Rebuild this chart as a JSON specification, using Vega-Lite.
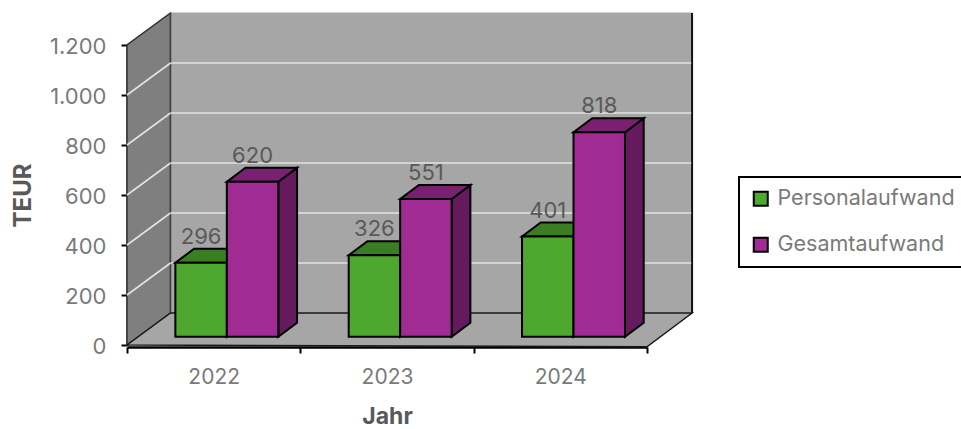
{
  "$schema": "https://vega.github.io/schema/vega-lite/v6.json",
  "width": 520,
  "height": 300,
  "autosize": {"type": "none"},
  "padding": {"left": 127, "top": 45, "right": 314, "bottom": 84},
  "background": "white",
  "config": {"view": {"stroke": null}, "font": "Inter", "legend": {"strokeWidth": 2}},
  "datasets": {
    "aufwand": [
      {"jahr": 2022, "serie": "Personalaufwand", "wert": 296},
      {"jahr": 2022, "serie": "Gesamtaufwand", "wert": 620},
      {"jahr": 2023, "serie": "Personalaufwand", "wert": 326},
      {"jahr": 2023, "serie": "Gesamtaufwand", "wert": 551},
      {"jahr": 2024, "serie": "Personalaufwand", "wert": 401},
      {"jahr": 2024, "serie": "Gesamtaufwand", "wert": 818}
    ],
    "raster": [
      {"wert": 0}, {"wert": 200}, {"wert": 400}, {"wert": 600},
      {"wert": 800}, {"wert": 1000}, {"wert": 1200}
    ],
    "raum": [{"teil": "Raum"}]
  },
  "layer": [
    {
      "resolve": {"scale": {"fill": "independent"}, "legend": {"fill": "independent"}},
      "layer": [
        {
          "description": "Seitenwand",
          "data": {"name": "raum"},
          "transform": [
            {"calculate": "[0, 0.251, 0.251, 0]", "as": "px"},
            {"calculate": "[0, 128, 1328, 1200]", "as": "py"},
            {"calculate": "[0, 1, 2, 3]", "as": "k"},
            {"flatten": ["px", "py", "k"]}
          ],
          "mark": {"type": "line", "interpolate": "linear-closed", "fill": "#7f7f7f", "stroke": "#333333", "strokeWidth": 1.5},
          "encoding": {
            "x": {"field": "px", "type": "quantitative", "scale": {"domain": [0, 3], "nice": false, "zero": false}, "axis": null},
            "y": {"field": "py", "type": "quantitative"},
            "order": {"field": "k"}
          }
        },
        {
          "description": "Rueckwand",
          "data": {"name": "raum"},
          "transform": [
            {"calculate": "[0.251, 3.26, 3.26, 0.251]", "as": "px"},
            {"calculate": "[128, 128, 1328, 1328]", "as": "py"},
            {"calculate": "[0, 1, 2, 3]", "as": "k"},
            {"flatten": ["px", "py", "k"]}
          ],
          "mark": {"type": "line", "interpolate": "linear-closed", "fill": "#a6a6a6", "stroke": "#a6a6a6", "strokeWidth": 1},
          "encoding": {
            "x": {"field": "px", "type": "quantitative", "axis": null},
            "y": {"field": "py", "type": "quantitative"},
            "order": {"field": "k"}
          }
        },
        {
          "description": "Linke Kante der Rueckwand",
          "data": {"name": "raum"},
          "mark": {"type": "rule", "stroke": "#404040", "strokeWidth": 1.5},
          "encoding": {
            "x": {"datum": 0.251, "type": "quantitative", "axis": null},
            "y": {"datum": 128, "type": "quantitative"},
            "y2": {"datum": 1328}
          }
        },
        {
          "description": "Rechte Kante der Rueckwand",
          "data": {"name": "raum"},
          "mark": {"type": "rule", "stroke": "#111111", "strokeWidth": 2},
          "encoding": {
            "x": {"datum": 3.26, "type": "quantitative", "axis": null},
            "y": {"datum": 128, "type": "quantitative"},
            "y2": {"datum": 1328}
          }
        },
        {
          "description": "Boden",
          "data": {"name": "raum"},
          "transform": [
            {"calculate": "[0, 3, 3.26, 0.251]", "as": "px"},
            {"calculate": "[0, -7, 128, 128]", "as": "py"},
            {"calculate": "[0, 1, 2, 3]", "as": "k"},
            {"flatten": ["px", "py", "k"]}
          ],
          "mark": {"type": "line", "interpolate": "linear-closed", "fill": "#a6a6a6", "stroke": "#1a1a1a", "strokeWidth": 1.5},
          "encoding": {
            "x": {"field": "px", "type": "quantitative", "axis": null},
            "y": {"field": "py", "type": "quantitative"},
            "order": {"field": "k"}
          }
        },
        {
          "description": "Gitterlinien der Rueckwand",
          "data": {"name": "raster"},
          "transform": [
            {"filter": "datum.wert > 0 && datum.wert < 1200"},
            {"calculate": "datum.wert + 128", "as": "hinten"}
          ],
          "mark": {"type": "rule", "stroke": "#e2e2e2", "strokeWidth": 1.6},
          "encoding": {
            "x": {"datum": 0.251, "type": "quantitative", "axis": null},
            "x2": {"datum": 3.255},
            "y": {"field": "hinten", "type": "quantitative"}
          }
        },
        {
          "description": "Gitterlinien der Seitenwand",
          "data": {"name": "raster"},
          "transform": [
            {"filter": "datum.wert > 0 && datum.wert < 1200"},
            {"calculate": "datum.wert + 128", "as": "hinten"}
          ],
          "mark": {"type": "rule", "stroke": "#e2e2e2", "strokeWidth": 1.6},
          "encoding": {
            "x": {"datum": 0, "type": "quantitative", "axis": null},
            "x2": {"datum": 0.251},
            "y": {"field": "wert", "type": "quantitative"},
            "y2": {"field": "hinten"}
          }
        },
        {
          "description": "Seitenflaechen der Saeulen",
          "data": {"name": "aufwand"},
          "transform": [
            {"calculate": "datum.jahr - 2022 + 0.279 + (datum.serie === 'Gesamtaufwand' ? 0.297 : 0)", "as": "x0"},
            {"calculate": "[datum.x0 + 0.297, datum.x0 + 0.405, datum.x0 + 0.405, datum.x0 + 0.297]", "as": "px"},
            {"calculate": "[33 + datum.wert, 89 + datum.wert, 89, 33]", "as": "py"},
            {"calculate": "[0, 1, 2, 3]", "as": "k"},
            {"flatten": ["px", "py", "k"]}
          ],
          "mark": {"type": "line", "interpolate": "linear-closed", "stroke": "#000000", "strokeWidth": 2},
          "encoding": {
            "x": {"field": "px", "type": "quantitative", "axis": null},
            "y": {"field": "py", "type": "quantitative"},
            "fill": {
              "field": "serie",
              "type": "nominal",
              "scale": {"domain": ["Personalaufwand", "Gesamtaufwand"], "range": ["#2f641c", "#641a5c"]},
              "legend": null
            },
            "detail": {"field": "jahr"},
            "order": {"field": "k"}
          }
        },
        {
          "description": "Deckflaechen der Saeulen",
          "data": {"name": "aufwand"},
          "transform": [
            {"calculate": "datum.jahr - 2022 + 0.279 + (datum.serie === 'Gesamtaufwand' ? 0.297 : 0)", "as": "x0"},
            {"calculate": "[datum.x0, datum.x0 + 0.297, datum.x0 + 0.405, datum.x0 + 0.108]", "as": "px"},
            {"calculate": "[33 + datum.wert, 33 + datum.wert, 89 + datum.wert, 89 + datum.wert]", "as": "py"},
            {"calculate": "[0, 1, 2, 3]", "as": "k"},
            {"flatten": ["px", "py", "k"]}
          ],
          "mark": {"type": "line", "interpolate": "linear-closed", "stroke": "#000000", "strokeWidth": 2},
          "encoding": {
            "x": {"field": "px", "type": "quantitative", "axis": null},
            "y": {"field": "py", "type": "quantitative"},
            "fill": {
              "field": "serie",
              "type": "nominal",
              "scale": {"domain": ["Personalaufwand", "Gesamtaufwand"], "range": ["#3b7d23", "#7a2070"]},
              "legend": null
            },
            "detail": {"field": "jahr"},
            "order": {"field": "k"}
          }
        },
        {
          "description": "Vorderseiten der Saeulen",
          "data": {"name": "aufwand"},
          "transform": [
            {"calculate": "datum.jahr - 2022 + 0.279 + (datum.serie === 'Gesamtaufwand' ? 0.297 : 0)", "as": "x0"},
            {"calculate": "datum.x0 + 0.297", "as": "x1"},
            {"calculate": "33 + datum.wert", "as": "oben"},
            {"calculate": "33", "as": "unten"}
          ],
          "mark": {"type": "rect", "stroke": "#000000", "strokeWidth": 2},
          "encoding": {
            "x": {"field": "x0", "type": "quantitative", "axis": null},
            "x2": {"field": "x1"},
            "y": {
              "field": "oben",
              "type": "quantitative",
              "scale": {"domain": [0, 1200], "nice": false},
              "axis": {
                "values": [0, 200, 400, 600, 800, 1000, 1200],
                "labelExpr": "replace(format(datum.value, ','), ',', '.')",
                "grid": false,
                "domainColor": "#111111",
                "domainWidth": 2,
                "tickColor": "#000000",
                "tickWidth": 2,
                "tickSize": 6,
                "labelFontSize": 22,
                "labelColor": "#7a7a7a",
                "labelPadding": 15,
                "labelOffset": 1,
                "title": "TEUR",
                "titleFontSize": 24,
                "titleFontWeight": "bold",
                "titleColor": "#595959",
                "titleX": -92,
                "titleY": 150
              }
            },
            "y2": {"field": "unten"},
            "fill": {
              "field": "serie",
              "type": "nominal",
              "scale": {"domain": ["Personalaufwand", "Gesamtaufwand"], "range": ["#4ea72e", "#a02b93"]},
              "legend": {
                "title": null,
                "orient": "none",
                "legendX": 612,
                "legendY": 132,
                "padding": 11,
                "fillColor": "white",
                "strokeColor": "#000000",
                "symbolType": "square",
                "symbolSize": 196,
                "symbolStrokeColor": "#000000",
                "symbolStrokeWidth": 2,
                "labelFontSize": 21.5,
                "labelColor": "#7a7a7a",
                "labelOffset": 6,
                "labelLimit": 260,
                "rowPadding": 23
              }
            }
          }
        },
        {
          "description": "Wertbeschriftungen",
          "data": {"name": "aufwand"},
          "transform": [
            {"calculate": "datum.jahr - 2022 + 0.279 + (datum.serie === 'Gesamtaufwand' ? 0.297 : 0) + 0.1485", "as": "mitte"},
            {"calculate": "33 + datum.wert", "as": "oben"}
          ],
          "mark": {"type": "text", "fontSize": 22, "color": "#595959", "baseline": "middle", "dy": -26},
          "encoding": {
            "x": {"field": "mitte", "type": "quantitative", "axis": null},
            "y": {"field": "oben", "type": "quantitative"},
            "text": {"field": "wert", "type": "quantitative"}
          }
        }
      ]
    },
    {
      "description": "Kategorienachse",
      "data": {"name": "aufwand"},
      "mark": {"type": "bar", "opacity": 0},
      "encoding": {
        "x": {
          "field": "jahr",
          "type": "ordinal",
          "scale": {"paddingInner": 0, "paddingOuter": 0},
          "axis": {
            "orient": "bottom",
            "offset": 2,
            "tickBand": "extent",
            "labelAngle": 0,
            "domainColor": "#000000",
            "domainWidth": 2.5,
            "tickColor": "#000000",
            "tickWidth": 2,
            "tickSize": 6,
            "labelFontSize": 21,
            "labelColor": "#7a7a7a",
            "labelPadding": 13,
            "title": "Jahr",
            "titleFontSize": 23,
            "titleFontWeight": "bold",
            "titleColor": "#595959",
            "titleX": 260,
            "titleY": 58
          }
        }
      }
    }
  ],
  "resolve": {"scale": {"x": "independent"}}
}
